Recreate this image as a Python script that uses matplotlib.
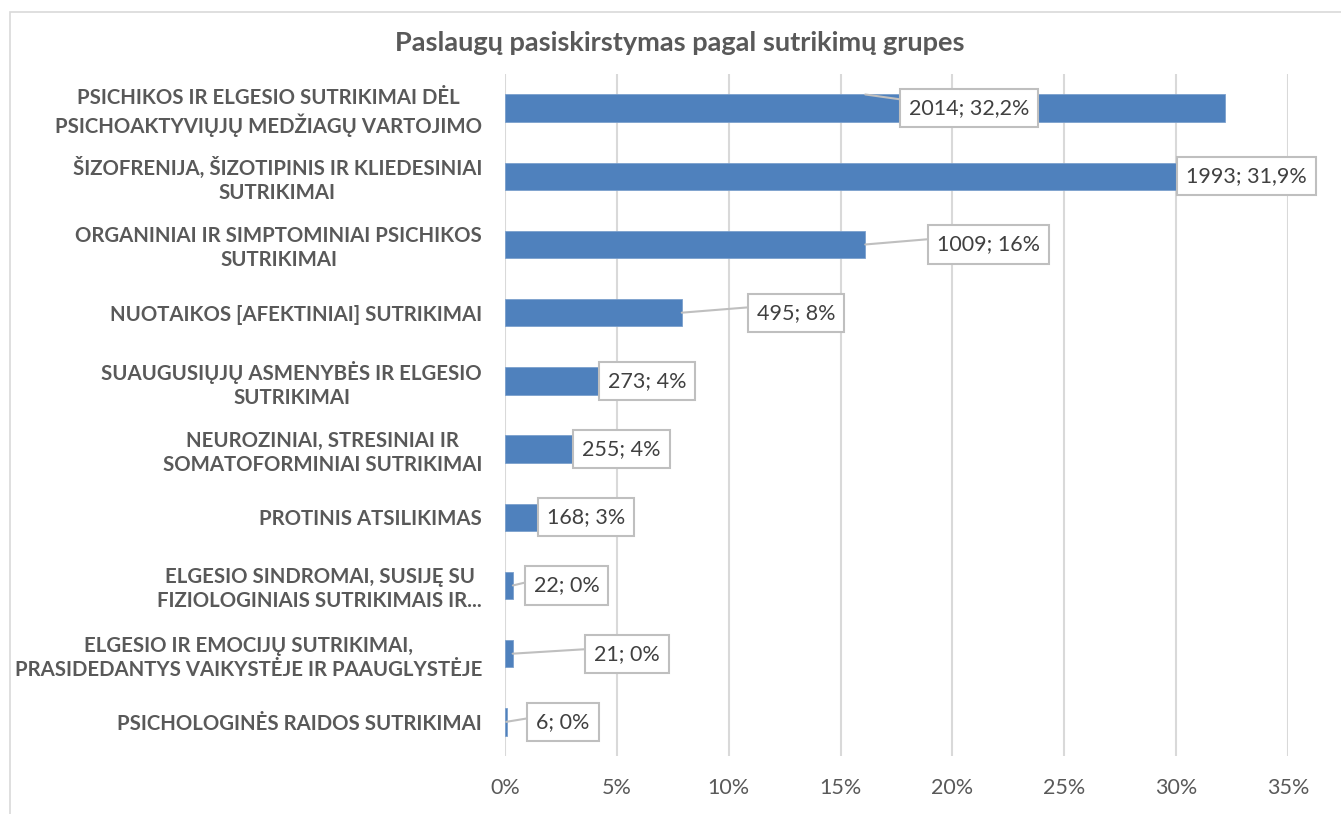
import matplotlib.pyplot as plt
from matplotlib.patches import Rectangle

# Categories (top to bottom as shown)
categories = [
    "PSICHIKOS IR ELGESIO SUTRIKIMAI DĖL\nPSICHOAKTYVIŲJŲ MEDŽIAGŲ VARTOJIMO",
    "ŠIZOFRENIJA, ŠIZOTIPINIS IR KLIEDESINIAI\nSUTRIKIMAI",
    "ORGANINIAI IR SIMPTOMINIAI PSICHIKOS\nSUTRIKIMAI",
    "NUOTAIKOS [AFEKTINIAI] SUTRIKIMAI",
    "SUAUGUSIŲJŲ ASMENYBĖS IR ELGESIO\nSUTRIKIMAI",
    "NEUROZINIAI, STRESINIAI IR\nSOMATOFORMINIAI SUTRIKIMAI",
    "PROTINIS ATSILIKIMAS",
    "ELGESIO SINDROMAI, SUSIJĘ SU\nFIZIOLOGINIAIS SUTRIKIMAIS IR...",
    "ELGESIO IR EMOCIJŲ SUTRIKIMAI,\nPRASIDEDANTYS VAIKYSTĖJE IR PAAUGLYSTĖJE",
    "PSICHOLOGINĖS RAIDOS SUTRIKIMAI",
]
counts = [2014, 1993, 1009, 495, 273, 255, 168, 22, 21, 6]
shares = [32.2, 31.9, 16.1, 7.9, 4.4, 4.1, 2.7, 0.35, 0.34, 0.1]
share_labels = ["32,2%", "31,9%", "16%", "8%", "4%", "4%", "3%", "0%", "0%", "0%"]

# label box placement (x in %) and leader line anchor (None = no leader)
label_x = [20.75, 33.15, 21.6, 13.0, 6.35, 5.2, 3.62, 2.75, 5.45, 2.6]
leader_from = [(16.1, -0.2), None, (16.1, 0), (7.9, 0), None, None, None,
               (0.35, 0), (0.34, 0), (0.05, 0)]
leader_rel = [(0.03, 0.85), None, (0, 0.8), (0, 0.8), None, None, None,
              (0, 0.75), (0, 0.75), (0, 0.75)]

txt = "#595959"
plt.rcParams['font.family'] = ['Lato', 'DejaVu Sans']

fig = plt.figure(figsize=(13.41, 8.14), dpi=100)
ax = fig.add_axes([0.3766, 0.0713, 0.5839, 0.8378])

y = list(range(len(categories)))
ax.barh(y, shares, height=0.4, color="#4F81BD", edgecolor="#7BA0CD", linewidth=0.6, zorder=2)
ax.set_ylim(len(categories) - 0.5, -0.5)
ax.set_xlim(0, 35)
ax.set_xticks(range(0, 36, 5))
ax.set_xticklabels([f"{v}%" for v in range(0, 36, 5)])
ax.set_yticks(y)
ax.set_yticklabels(categories, fontweight="bold", multialignment="center", linespacing=1.25)
ax.tick_params(axis="y", length=0, pad=16.5, labelsize=14.7, labelcolor=txt)
ax.tick_params(axis="x", length=0, pad=16, labelsize=15.5, labelcolor=txt)
ax.grid(axis="x", color="#D9D9D9", linewidth=1.5, zorder=0)
for s in ax.spines.values():
    s.set_visible(False)

for i in y:
    label = f"{counts[i]}; {share_labels[i]}"
    box = dict(boxstyle="square,pad=0.42", fc="white", ec="#BFBFBF", lw=1.5)
    if leader_from[i] is None:
        ax.text(label_x[i], i, label, ha="center", va="center", fontsize=15.5,
                color="#404040", bbox=box, zorder=4)
    else:
        lx, dy = leader_from[i]
        ax.annotate(label, xy=(lx, i + dy), xytext=(label_x[i], i),
                    ha="center", va="center", fontsize=15.5, color="#404040", bbox=box,
                    arrowprops=dict(arrowstyle="-", color="#BFBFBF", lw=1.5,
                                    shrinkA=0, shrinkB=0, relpos=leader_rel[i]),
                    zorder=4)

fig.suptitle("Paslaugų pasiskirstymas pagal sutrikimų grupes", x=0.507, y=0.962,
             fontsize=19.5, fontweight="bold", color=txt)

fig.patches.append(Rectangle((0.0075, -0.01), 1.0, 0.995, transform=fig.transFigure,
                             fill=False, ec="#D9D9D9", lw=1.2))

fig.savefig("out.png", dpi=100)
